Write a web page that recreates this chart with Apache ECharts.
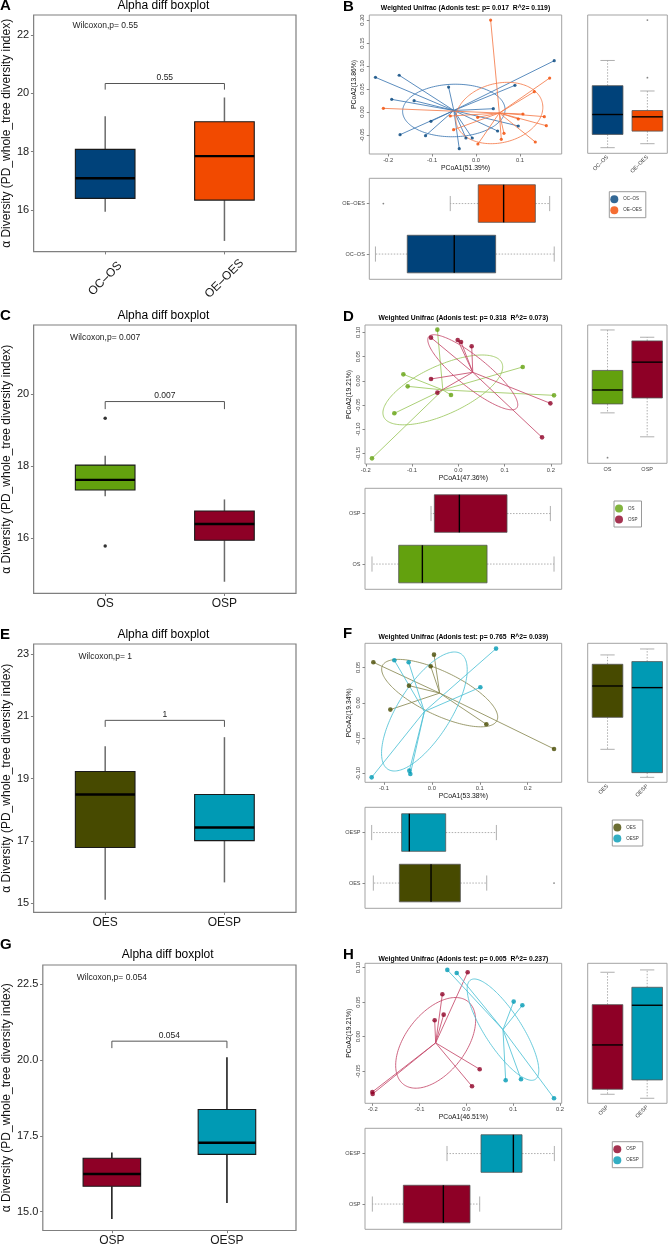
<!DOCTYPE html>
<html><head><meta charset="utf-8">
<script src="https://cdn.jsdelivr.net/npm/echarts@6/dist/echarts.min.js"></script>
<style>html,body{margin:0;padding:0;background:#fff}#c{width:668px;height:1247px}</style>
</head><body><div id="c"></div>
<script>
// ================= DATA =================
// ---- Row 1 : A (alpha) ----
const catsA = ['OC–OS', 'OE–OES'];
const alphaA = [[15.94, 16.40, 17.09, 18.08, 19.22], [14.94, 16.34, 17.85, 19.03, 19.86]]; // low,q1,med,q3,high
const alphaOutA = [];
const alphaRangeA = [14.57, 22.69];
const alphaTicksA = [16, 18, 20, 22];
const bracketA = [20.34, 20.13];
const pLabelA = '0.55';
const wilcoxA = 'Wilcoxon,p= 0.55';
const wilcoxYA = 22.31;
// ---- Row 2 : C ----
const catsC = ['OS', 'OSP'];
const alphaC = [[17.17, 17.34, 17.62, 18.03, 18.29], [14.80, 15.95, 16.40, 16.76, 17.08]];
const alphaOutC = [[1, 19.33], [1, 15.79]];
const alphaRangeC = [14.48, 21.91];
const alphaTicksC = [16, 18, 20];
const bracketC = [19.79, 19.58];
const pLabelC = '0.007';
const wilcoxC = 'Wilcoxon,p= 0.007';
const wilcoxYC = 21.57;
// ---- Row 3 : E ----
const catsE = ['OES', 'OESP'];
const alphaE = [[15.11, 16.79, 18.49, 19.23, 20.04], [15.67, 17.01, 17.43, 18.49, 20.33]];
const alphaOutE = [];
const alphaRangeE = [14.71, 23.32];
const alphaTicksE = [15, 17, 19, 21, 23];
const bracketE = [20.87, 20.66];
const pLabelE = '1';
const wilcoxE = 'Wilcoxon,p= 1';
const wilcoxYE = 22.91;
// ---- Row 4 : G ----
const catsG = ['OSP', 'OESP'];
const alphaG = [[14.76, 15.84, 16.24, 16.76, 16.95], [15.29, 16.89, 17.27, 18.37, 20.09]];
const alphaOutG = [];
const alphaRangeG = [14.38, 23.13];
const alphaTicksG = [15, 17.5, 20, 22.5];
const bracketG = [20.62, 20.39];
const pLabelG = '0.054';
const wilcoxG = 'Wilcoxon,p= 0.054';
const wilcoxYG = 22.72;

// ---- B : PCoA ----
const groupsB = ['OC–OS', 'OE–OES'];
const pcoaB_1 = [[-0.229,0.0754],[-0.175,0.080],[-0.192,0.0275],[-0.141,0.0246],[-0.0625,0.0543],[-0.1027,-0.0203],[-0.173,-0.0493],[-0.115,-0.0514],[-0.0382,-0.0797],[-0.023,-0.0565],[-0.0086,-0.0565],[0.0393,0.0072],[0.0491,-0.0413],[0.0886,0.058],[0.0962,-0.0304],[0.178,0.1116]];
const pcoaB_2 = [[-0.211,0.008],[0.0332,0.2],[0.1676,0.0739],[0.1327,0.0442],[0.1068,-0.0043],[0.1554,-0.0101],[0.0962,-0.0152],[0.16,-0.0297],[0.1349,-0.0652],[0.0636,-0.0464],[0.0575,-0.0594],[0.0043,-0.0696],[0.0036,-0.0116],[-0.0587,-0.0087],[-0.0511,-0.0384]];
const ellipseB = [[0.116,-0.004,0.012,0.057],[0.099,0.0098,0.004,0.066]]; // conjugate semi-axes u(x,y), v(x,y)
const xRangeB = [-0.243, 0.195], yRangeB = [-0.0913, 0.211];
const xTicksB = [-0.2, -0.1, 0, 0.1], yTicksB = [-0.05, 0, 0.05, 0.1, 0.15, 0.2];
const axisNamesB = ['PCoA1(51.39%)', 'PCoA2(13.86%)'];
const titleB = 'Weighted Unifrac (Adonis test: p= 0.017  R^2= 0.119)';
const pc2BoxB = [[-0.079,-0.05,-0.0065,0.0565,0.1116],[-0.0703,-0.0428,-0.0116,0.0022,0.0449]];
const pc2OutB = [[2,0.2],[2,0.0739]];
const pc1BoxB = [[-0.229,-0.1566,-0.0496,0.0446,0.178],[-0.0587,0.005,0.0628,0.135,0.1676]];
const pc1OutB = [[-0.211,2]];

// ---- D ----
const groupsD = ['OS', 'OSP'];
const pcoaD_1 = [[-0.0454,0.1057],[-0.1189,0.0134],[-0.1095,-0.0114],[-0.1384,-0.0671],[-0.1867,-0.1601],[-0.0159,-0.0293],[0.1391,0.0286],[0.2068,-0.03]];
const pcoaD_2 = [[-0.0591,0.0892],[-0.0014,0.0844],[0.0058,0.0802],[0.0288,0.0713],[-0.0591,0.0038],[-0.0454,-0.0244],[0.1989,-0.0465],[0.1809,-0.1168]];
const ellipseD = [[0.1276,0.0558,0.0219,-0.0457],[0.0951,-0.0737,-0.0204,-0.0241]];
const xRangeD = [-0.2018, 0.2234], yRangeD = [-0.1718, 0.1153];
const xTicksD = [-0.2, -0.1, 0, 0.1, 0.2], yTicksD = [-0.15, -0.1, -0.05, 0, 0.05, 0.1];
const axisNamesD = ['PCoA1(47.36%)', 'PCoA2(19.21%)'];
const titleD = 'Weighted Unifrac (Adonis test: p= 0.318  R^2= 0.073)';
const pc2BoxD = [[-0.0671,-0.0486,-0.0196,0.0210,0.105],[-0.1168,-0.0362,0.0382,0.0823,0.0899]];
const pc2OutD = [[1,-0.1601]];
const pc1BoxD = [[-0.1867,-0.129,-0.0778,0.062,0.2068],[-0.0591,-0.0519,0.0022,0.1052,0.1989]];
const pc1OutD = [];

// ---- F ----
const groupsF = ['OES', 'OESP'];
const pcoaF_1 = [[-0.1221,0.0571],[0.0045,0.0679],[-0.0024,0.0515],[-0.0477,0.0242],[-0.0866,-0.0096],[0.1138,-0.0303],[0.255,-0.0651]];
const pcoaF_2 = [[-0.0783,0.0599],[-0.0484,0.0571],[0.134,0.0764],[0.1012,0.0219],[-0.1256,-0.1051],[-0.047,-0.0957],[-0.0449,-0.1004]];
const ellipseF = [[0.1195,-0.0387,-0.0196,-0.0276],[0.076,0.0815,0.0471,-0.02]];
const xRangeF = [-0.1395, 0.271], yRangeF = [-0.1121, 0.0839];
const xTicksF = [-0.1, 0, 0.1, 0.2], yTicksF = [-0.1, -0.05, 0, 0.05];
const axisNamesF = ['PCoA1(53.38%)', 'PCoA2(19.34%)'];
const titleF = 'Weighted Unifrac (Adonis test: p= 0.765  R^2= 0.039)';
const pc2BoxF = [[-0.0656,-0.0205,0.0237,0.0543,0.0675],[-0.1051,-0.0985,0.0214,0.0581,0.0759]];
const pc2OutF = [];
const pc1BoxF = [[-0.1221,-0.0678,-0.0017,0.0595,0.1145],[-0.1256,-0.063,-0.047,0.0289,0.1347]];
const pc1OutF = [[0.255,1]];

// ---- H ----
const groupsH = ['OSP', 'OESP'];
const pcoaH_1 = [[0.0028,0.0934],[-0.0512,0.0614],[-0.0484,0.0319],[-0.0676,0.0237],[0.0285,-0.0474],[0.0121,-0.0721],[-0.2007,-0.0803],[-0.2,-0.0832]];
const pcoaH_2 = [[-0.0406,0.0968],[-0.0206,0.0924],[0.1011,0.0508],[0.1196,0.0455],[0.084,-0.0634],[0.1167,-0.0619],[0.1872,-0.0895]];
const ellipseH = [[0.0688,0.0601,0.0505,-0.0268],[0.0691,-0.0721,-0.0328,-0.0145]];
const xRangeH = [-0.2164, 0.2036], yRangeH = [-0.0968, 0.1064];
const xTicksH = [-0.2, -0.1, 0, 0.1, 0.2], yTicksH = [-0.05, 0, 0.05, 0.1];
const axisNamesH = ['PCoA1(46.51%)', 'PCoA2(19.21%)'];
const titleH = 'Weighted Unifrac (Adonis test: p= 0.005  R^2= 0.237)';
const pc2BoxH = [[-0.0837,-0.0764,-0.0121,0.0464,0.0934],[-0.0895,-0.0629,0.0455,0.0716,0.0968]];
const pc2OutH = [];
const pc1BoxH = [[-0.2007,-0.1345,-0.0491,0.0078,0.0285],[-0.0413,0.0313,0.1004,0.1189,0.1879]];
const pc1OutH = [];

// ================= STYLE / LAYOUT =================
const FONT = 'Liberation Sans';
const FILL = {'OC–OS':'#00427A','OE–OES':'#F24A00','OS':'#63A10E','OSP':'#8E0026','OES':'#474A00','OESP':'#009AB4'};
const LINE = {'OC–OS':'#3f78b2','OE–OES':'#f47c4c','OS':'#9cc75f','OSP':'#c54a6b','OES':'#8a8a55','OESP':'#4fc2d6'};
const LEFT_LAYOUT = [
  {frame:[30.7,15,296,251.7], letter:'A', letterY:6, titleY:6, rotate:45, whisker:'#6b6b6b'},
  {frame:[30.7,325,296,593.3], letter:'C', letterY:316, titleY:316, rotate:0, whisker:'#6b6b6b'},
  {frame:[30.7,644,296,912.3], letter:'E', letterY:635, titleY:635, rotate:0, whisker:'#6b6b6b'},
  {frame:[39.3,965,296,1233.3], letter:'G', letterY:945, titleY:955, rotate:0, whisker:'#111'}
];
const RIGHT_LAYOUT = [
  {sc:[369.3,15,561.7,154], tr:[587.7,15,667.3,153.3], bt:[369.3,178.3,561.7,279.3], lg:[609.3,191.7], letter:'B', letterY:7, titleY:8.3, trRotate:45, pt:3.2},
  {sc:[365,325,561.7,464], tr:[587.7,325,667,463.3], bt:[365,488.3,561.7,589.3], lg:[614,501], letter:'D', letterY:317, titleY:318, trRotate:0, pt:4.6},
  {sc:[365,643.3,561.7,782.3], tr:[587.7,643.3,667,782.3], bt:[365,807.3,561.7,908.3], lg:[612.3,820], letter:'F', letterY:634, titleY:637.3, trRotate:45, pt:4.6},
  {sc:[365,963.3,561.7,1103.3], tr:[587.7,963.3,667,1103.3], bt:[365,1128.3,561.7,1229.3], lg:[612.3,1141.7], letter:'H', letterY:955, titleY:959.3, trRotate:45, pt:4.6}
];

// ================= BUILDERS =================
const grid = [], xAxis = [], yAxis = [], series = [], graphic = [], legend = [];

function addGrid(f, color, width) {
  grid.push({left:f[0], top:f[1], width:f[2]-f[0], height:f[3]-f[1], show:true,
    borderColor:color, borderWidth:width, backgroundColor:'rgba(0,0,0,0)'});
  return grid.length - 1;
}
function valAxis(gi, range, o) {
  const ax = {type:'value', gridIndex:gi, min:range[0], max:range[1],
    axisLine:{show:false, onZero:false}, splitLine:{show:false}, splitArea:{show:false}};
  if (o.ticks && o.tickLen) ax.axisTick = {show:true, inside:false, length:o.tickLen, customValues:o.ticks, lineStyle:{color:o.tickColor, width:o.tickWidth || 1}};
  else ax.axisTick = {show:false};
  if (o.ticks && o.fmt) {
    ax.axisLabel = {show:true, customValues:o.ticks, formatter:o.fmt, fontSize:o.fontSize, color:o.color,
      fontFamily:FONT, rotate:o.rotate || 0, margin:o.margin, hideOverlap:false};
    if (o.align) ax.axisLabel.align = o.align;
    if (o.valign) ax.axisLabel.verticalAlign = o.valign;
  } else ax.axisLabel = {show:false};
  if (o.name) {
    ax.name = o.name; ax.nameLocation = 'middle'; ax.nameGap = o.nameGap;
    ax.nameTextStyle = {fontSize:o.nameSize, color:o.nameColor || '#111', fontFamily:FONT};
  }
  return ax;
}
function lineEl(a, b, st) { return {type:'line', shape:{x1:a[0], y1:a[1], x2:b[0], y2:b[1]}, style:st}; }

function boxSeries(gi, stats, fills, cfg) {
  return {type:'custom', xAxisIndex:gi, yAxisIndex:gi, clip:false, silent:true, z:3,
    data: stats.map((s, i) => [i + 1, s[0], s[1], s[2], s[3], s[4]]),
    renderItem: function (params, api) {
      const p = api.value(0), lo = api.value(1), q1 = api.value(2), md = api.value(3), q3 = api.value(4), hi = api.value(5);
      const pt = (pos, val) => cfg.horizontal ? api.coord([val, pos]) : api.coord([pos, val]);
      const wst = {stroke:cfg.whisker, lineWidth:cfg.whiskerW};
      if (cfg.dash) wst.lineDash = cfg.dash;
      const ch = [lineEl(pt(p, q3), pt(p, hi), wst), lineEl(pt(p, q1), pt(p, lo), wst)];
      if (cfg.cap) [lo, hi].forEach(v => ch.push(lineEl(pt(p - cfg.cap, v), pt(p + cfg.cap, v), {stroke:cfg.whisker, lineWidth:cfg.whiskerW})));
      const a = pt(p - cfg.hw, q1), b = pt(p + cfg.hw, q3);
      ch.push({type:'rect', shape:{x:Math.min(a[0], b[0]), y:Math.min(a[1], b[1]), width:Math.abs(b[0] - a[0]), height:Math.abs(b[1] - a[1])},
        style:{fill:fills[params.dataIndex], stroke:cfg.border, lineWidth:cfg.borderW}});
      ch.push(lineEl(pt(p - cfg.hw, md), pt(p + cfg.hw, md), {stroke:'#000', lineWidth:cfg.medW}));
      return {type:'group', children:ch};
    }};
}
function pointSeries(gi, pts, color, size, name) {
  const s = {type:'scatter', xAxisIndex:gi, yAxisIndex:gi, data:pts, symbol:'circle', symbolSize:size,
    itemStyle:{color:color}, silent:true, z:5};
  if (name) s.name = name;
  return s;
}
function centroid(pts) {
  let sx = 0, sy = 0; pts.forEach(p => { sx += p[0]; sy += p[1]; });
  return [sx / pts.length, sy / pts.length];
}
function spiderSeries(gi, pts, color) {
  const c = centroid(pts);
  return {type:'custom', xAxisIndex:gi, yAxisIndex:gi, data:pts, clip:false, silent:true, z:2,
    renderItem: (params, api) => lineEl(api.coord(c), api.coord([api.value(0), api.value(1)]), {stroke:color, lineWidth:0.85})};
}
function ellipseSeries(gi, pts, e, color) {
  const c = centroid(pts);
  return {type:'custom', xAxisIndex:gi, yAxisIndex:gi, data:[[c[0], c[1], e[0], e[1], e[2], e[3]]], clip:false, silent:true, z:2,
    renderItem: (params, api) => {
      const C = api.coord([api.value(0), api.value(1)]);
      const U = api.coord([api.value(0) + api.value(2), api.value(1) + api.value(3)]);
      const V = api.coord([api.value(0) + api.value(4), api.value(1) + api.value(5)]);
      const ux = U[0] - C[0], uy = U[1] - C[1], vx = V[0] - C[0], vy = V[1] - C[1];
      const points = [];
      for (let k = 0; k <= 160; k++) { const t = 2 * Math.PI * k / 160;
        points.push([C[0] + ux * Math.cos(t) + vx * Math.sin(t), C[1] + uy * Math.cos(t) + vy * Math.sin(t)]); }
      return {type:'polyline', shape:{points:points}, style:{stroke:color, lineWidth:0.85, fill:null}};
    }};
}
function bracketSeries(gi, br, label) {
  return {type:'custom', xAxisIndex:gi, yAxisIndex:gi, data:[[1, 2, br[0], br[1]]], clip:false, silent:true, z:4,
    renderItem: (params, api) => {
      const x1 = api.value(0), x2 = api.value(1), yt = api.value(2), yb = api.value(3);
      const a = api.coord([x1, yb]), b = api.coord([x1, yt]), c = api.coord([x2, yt]), d = api.coord([x2, yb]);
      return {type:'group', children:[
        {type:'polyline', shape:{points:[a, b, c, d]}, style:{stroke:'#555', lineWidth:1, fill:null}},
        {type:'text', x:(b[0] + c[0]) / 2, y:b[1] - 1.5, style:{text:label, fontSize:8.5, fill:'#222', fontFamily:FONT, align:'center', verticalAlign:'bottom'}}
      ]};
    }};
}
function textSeries(gi, pos, label, size) {
  return {type:'custom', xAxisIndex:gi, yAxisIndex:gi, data:[pos], clip:false, silent:true, z:4,
    renderItem: (params, api) => {
      const p = api.coord([api.value(0), api.value(1)]);
      return {type:'text', x:p[0], y:p[1], style:{text:label, fontSize:size, fill:'#222', fontFamily:FONT, align:'center', verticalAlign:'middle'}};
    }};
}
function addText(x, y, text, size, bold, align) {
  graphic.push({type:'text', x:x, y:y, silent:true, style:{text:text, fontSize:size, fontWeight:bold ? 'bold' : 'normal',
    fill:'#000', fontFamily:FONT, align:align || 'center', verticalAlign:'middle'}});
}

// ---------- left (ggplot-like) alpha panels ----------
function leftPanel(L, cats, stats, outs, range, ticks, fmt, br, pLab, wTxt, wY) {
  const gi = addGrid(L.frame, '#7f7f7f', 1.2);
  const xo = {ticks:[1, 2], fmt:v => cats[Math.round(v) - 1], fontSize:12, color:'#1a1a1a', tickLen:2.7, tickColor:'#7f7f7f', margin:4.5};
  if (L.rotate) { xo.rotate = L.rotate; xo.align = 'center'; xo.valign = 'middle'; xo.margin = 27; }
  xAxis.push(valAxis(gi, [0.4, 2.6], xo));
  yAxis.push(valAxis(gi, range, {ticks:ticks, fmt:fmt, fontSize:11, color:'#1a1a1a', tickLen:2.7, tickColor:'#7f7f7f', margin:4.5,
    name:'α Diversity (PD_whole_tree diversity index)', nameGap:16.5, nameSize:12}));
  series.push(boxSeries(gi, stats, cats.map(c => FILL[c]), {hw:0.25, whisker:L.whisker, whiskerW:1.5, border:'#1a1a1a', borderW:1.1, medW:2.4}));
  if (outs.length) series.push(pointSeries(gi, outs, '#000', 3.5));
  series.push(bracketSeries(gi, br, pLab));
  series.push(textSeries(gi, [1, wY], wTxt, 8.5));
  addText(0, L.letterY, L.letter, 15, true, 'left');
  addText((L.frame[0] + L.frame[2]) / 2, L.titleY, 'Alpha diff boxplot', 12, false);
}

// ---------- right (R base) beta panels ----------
function rightPanel(R, groups, p1, p2, ell, xr, yr, xt, yt, names, title, trBox, trOut, btBox, btOut) {
  const fills = groups.map(g => FILL[g]);
  // scatter
  const gs = addGrid(R.sc, '#a3a3a3', 1);
  xAxis.push(valAxis(gs, xr, {ticks:xt, fmt:v => v.toFixed(1), fontSize:5.8, color:'#444', tickLen:2.5, tickColor:'#888', margin:3.5,
    name:names[0], nameGap:9.5, nameSize:6.8}));
  yAxis.push(valAxis(gs, yr, {ticks:yt, fmt:v => v.toFixed(2), fontSize:5.8, color:'#444', tickLen:2.5, tickColor:'#888', margin:3.5, rotate:90,
    name:names[1], nameGap:12, nameSize:6.8}));
  [p1, p2].forEach((pts, i) => {
    series.push(spiderSeries(gs, pts, LINE[groups[i]]));
    series.push(ellipseSeries(gs, pts, ell[i], LINE[groups[i]]));
  });
  [p1, p2].forEach((pts, i) => series.push(pointSeries(gs, pts, fills[i], R.pt, groups[i])));
  // top-right box (PCoA2)
  const gt = addGrid(R.tr, '#a3a3a3', 1);
  const to = {ticks:[1, 2], fmt:v => groups[Math.round(v) - 1], fontSize:5.5, color:'#444', tickLen:0, margin:3};
  if (R.trRotate) to.rotate = R.trRotate;
  xAxis.push(valAxis(gt, [0.5, 2.5], to));
  yAxis.push(valAxis(gt, yr, {}));
  series.push(boxSeries(gt, trBox, fills, {hw:0.386, cap:0.18, whisker:'#9a9a9a', whiskerW:0.8, dash:[1.5, 1.5], border:'#555', borderW:0.8, medW:1.4}));
  if (trOut.length) series.push(pointSeries(gt, trOut, '#666', 1.8));
  // bottom box (PCoA1)
  const gb = addGrid(R.bt, '#a3a3a3', 1);
  xAxis.push(valAxis(gb, xr, {}));
  yAxis.push(valAxis(gb, [0.5, 2.5], {ticks:[1, 2], fmt:v => groups[Math.round(v) - 1], fontSize:5.5, color:'#444', tickLen:2.5, tickColor:'#888', margin:4.5}));
  series.push(boxSeries(gb, btBox, fills, {horizontal:true, hw:0.372, cap:0.15, whisker:'#9a9a9a', whiskerW:0.8, dash:[1.5, 1.5], border:'#555', borderW:0.8, medW:1.4}));
  if (btOut.length) series.push(pointSeries(gb, btOut, '#666', 1.8));
  // legend
  legend.push({left:R.lg[0], top:R.lg[1], orient:'vertical', icon:'circle', itemWidth:8, itemHeight:8, itemGap:3,
    padding:[3.5, 4, 3.5, 1], borderColor:'#9a9a9a', borderWidth:1, selectedMode:false,
    textStyle:{fontSize:4.5, color:'#333', fontFamily:FONT},
    data:groups.map((g, i) => ({name:g, itemStyle:{color:fills[i]}}))});
  addText(343, R.letterY, R.letter, 15, true, 'left');
  addText((R.sc[0] + R.sc[2]) / 2, R.titleY, title, 6.8, true);
}

const intFmt = v => String(v);
const oneDec = v => v.toFixed(1);
leftPanel(LEFT_LAYOUT[0], catsA, alphaA, alphaOutA, alphaRangeA, alphaTicksA, intFmt, bracketA, pLabelA, wilcoxA, wilcoxYA);
leftPanel(LEFT_LAYOUT[1], catsC, alphaC, alphaOutC, alphaRangeC, alphaTicksC, intFmt, bracketC, pLabelC, wilcoxC, wilcoxYC);
leftPanel(LEFT_LAYOUT[2], catsE, alphaE, alphaOutE, alphaRangeE, alphaTicksE, intFmt, bracketE, pLabelE, wilcoxE, wilcoxYE);
leftPanel(LEFT_LAYOUT[3], catsG, alphaG, alphaOutG, alphaRangeG, alphaTicksG, oneDec, bracketG, pLabelG, wilcoxG, wilcoxYG);

rightPanel(RIGHT_LAYOUT[0], groupsB, pcoaB_1, pcoaB_2, ellipseB, xRangeB, yRangeB, xTicksB, yTicksB, axisNamesB, titleB, pc2BoxB, pc2OutB, pc1BoxB, pc1OutB);
rightPanel(RIGHT_LAYOUT[1], groupsD, pcoaD_1, pcoaD_2, ellipseD, xRangeD, yRangeD, xTicksD, yTicksD, axisNamesD, titleD, pc2BoxD, pc2OutD, pc1BoxD, pc1OutD);
rightPanel(RIGHT_LAYOUT[2], groupsF, pcoaF_1, pcoaF_2, ellipseF, xRangeF, yRangeF, xTicksF, yTicksF, axisNamesF, titleF, pc2BoxF, pc2OutF, pc1BoxF, pc1OutF);
rightPanel(RIGHT_LAYOUT[3], groupsH, pcoaH_1, pcoaH_2, ellipseH, xRangeH, yRangeH, xTicksH, yTicksH, axisNamesH, titleH, pc2BoxH, pc2OutH, pc1BoxH, pc1OutH);

const chart = echarts.init(document.getElementById('c'), null, {renderer:'canvas'});
chart.setOption({animation:false, backgroundColor:'#fff', textStyle:{fontFamily:FONT},
  grid:grid, xAxis:xAxis, yAxis:yAxis, series:series, graphic:graphic, legend:legend});
</script></body></html>
